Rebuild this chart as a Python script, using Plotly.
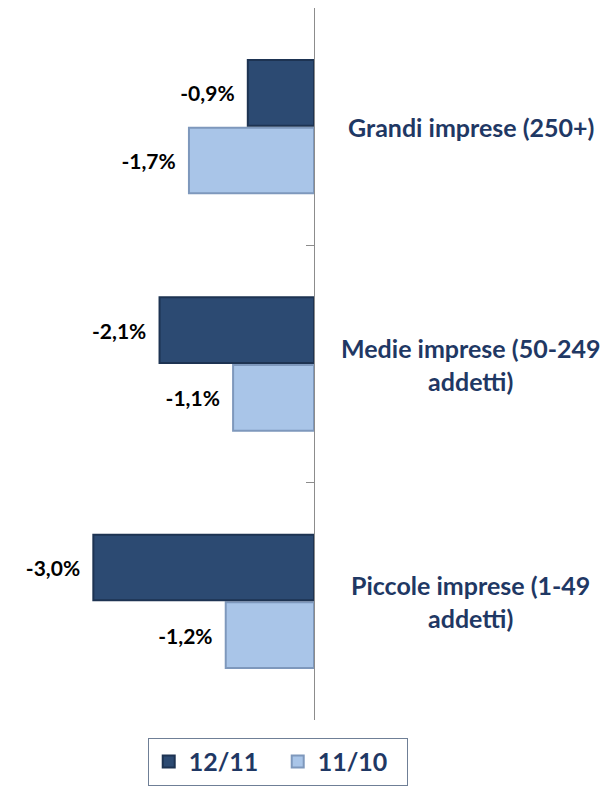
import plotly.graph_objects as go

categories = ["Piccole imprese (1-49<br>addetti)", "Medie imprese (50-249<br>addetti)", "Grandi imprese (250+)"]
series_names = ["12/11", "11/10"]
values_12_11 = [-3.0, -2.1, -0.9]
values_11_10 = [-1.2, -1.1, -1.7]
value_labels_12_11 = ["-3,0%", "-2,1%", "-0,9%"]
value_labels_11_10 = ["-1,2%", "-1,1%", "-1,7%"]

NAVY = "#1F3864"
FONT = "Lato, Open Sans, sans-serif"

fig = go.Figure()
# light series first so the dark one sits on top inside each group
fig.add_bar(
    name=series_names[1],
    y=categories,
    x=values_11_10,
    orientation="h",
    text=value_labels_11_10,
    marker=dict(color="#A9C5E8", line=dict(color="#7E98BC", width=2)),
    legendrank=2,
)
fig.add_bar(
    name=series_names[0],
    y=categories,
    x=values_12_11,
    orientation="h",
    text=value_labels_12_11,
    marker=dict(color="#2C4A72", line=dict(color="#1D3352", width=2)),
    legendrank=1,
)
fig.update_traces(
    textposition="outside",
    texttemplate="%{text}\u00a0\u00a0",
    textfont=dict(family=FONT, size=21, color="#000000", weight="bold"),
    cliponaxis=False,
)

for cat in categories:
    fig.add_annotation(
        text=f"<b>{cat}</b>",
        x=1.513,
        xref="paper",
        y=cat,
        yref="y",
        xanchor="center",
        align="center",
        showarrow=False,
        font=dict(family=FONT, size=25, color=NAVY),
    )

fig.update_layout(
    width=613,
    height=793,
    margin=dict(l=0, r=307, t=0, b=81, autoexpand=False),
    paper_bgcolor="white",
    plot_bgcolor="white",
    barmode="group",
    bargap=0.43,
    bargroupgap=0.03,
    showlegend=True,
    legend=dict(
        orientation="h",
        xref="container",
        x=0.44,
        xanchor="center",
        y=-0.025,
        yanchor="top",
        bordercolor="#6F7F96",
        borderwidth=1,
        font=dict(family=FONT, size=25, color=NAVY, weight="bold"),
        itemwidth=30,
        entrywidth=84,
    ),
    xaxis=dict(
        range=[-4.16, 0],
        showgrid=False,
        zeroline=False,
        showticklabels=False,
        automargin=False,
    ),
    yaxis=dict(
        side="right",
        showline=True,
        linecolor="#8C8C8C",
        linewidth=1,
        ticks="inside",
        tickson="boundaries",
        ticklen=8,
        tickcolor="#8C8C8C",
        showticklabels=False,
        showgrid=False,
        automargin=False,
    ),
)

fig.write_html("out.html")
